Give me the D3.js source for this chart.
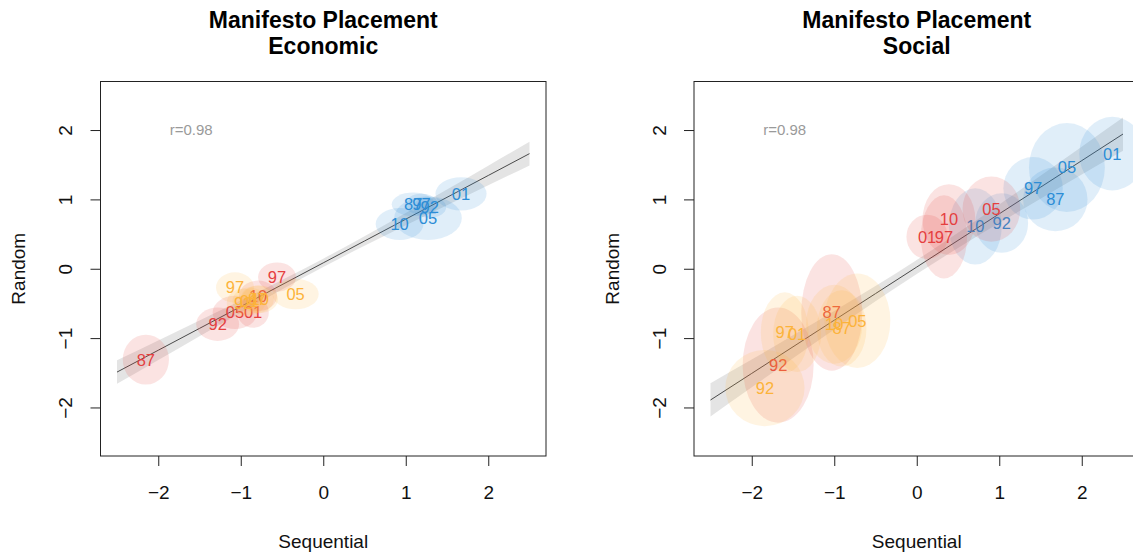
<!DOCTYPE html>
<html><head><meta charset="utf-8">
<script src="https://cdn.jsdelivr.net/npm/d3@7"></script>
<style>
body{margin:0;background:#fff;}
svg text{font-family:"Liberation Sans",Arial,Helvetica,sans-serif;}
</style></head><body>
<svg id="chart" width="1133" height="554"></svg>
<script>
// ---- data ----
const panelTitles = ["Economic", "Social"];
const mainTitle = "Manifesto Placement";
const xLabel = "Sequential";
const yLabel = "Random";
const tickValues = [-2, -1, 0, 1, 2];
const rText = ["r=0.98", "r=0.98"];

// party index per point (0 = red, 1 = orange, 2 = blue) and year label
const partyOf = [0,0,0,0,0,0, 1,1,1,1,1,1, 2,2,2,2,2,2];
const yearOf  = ["87","92","97","01","05","10","87","92","97","01","05","10","87","92","97","01","05","10"];

// Economic panel: estimates (x = Sequential, y = Random) and their spreads
const econX  = [-2.15,-1.28,-0.56,-0.85,-1.07,-0.79,  -0.80,-0.97,-1.07,-0.90,-0.335,-0.77,  1.09,1.29,1.19,1.67,1.27,0.925];
const econY  = [-1.31,-0.80,-0.12,-0.63,-0.63,-0.39,  -0.44,-0.49,-0.27,-0.47,-0.365,-0.44,  0.93,0.885,0.93,1.08,0.73,0.645];
const econSX = [0.28,0.26,0.23,0.19,0.27,0.23,  0.20,0.20,0.23,0.20,0.28,0.22,  0.26,0.20,0.20,0.31,0.41,0.29];
const econSY = [0.36,0.24,0.21,0.22,0.24,0.22,  0.20,0.20,0.22,0.20,0.22,0.20,  0.17,0.15,0.15,0.24,0.315,0.23];

// Social panel
const socX  = [-1.03,-1.68,0.33,0.125,0.905,0.39,  -0.91,-1.84,-1.60,-1.45,-0.72,-1.00,  1.68,1.03,1.41,2.37,1.82,0.71];
const socY  = [-0.63,-1.39,0.46,0.46,0.86,0.71,  -0.86,-1.72,-0.92,-0.94,-0.75,-0.80,  1.00,0.66,1.16,1.66,1.46,0.61];
const socSX = [0.37,0.43,0.28,0.25,0.35,0.32,  0.30,0.48,0.29,0.29,0.40,0.34,  0.39,0.32,0.36,0.40,0.46,0.32];
const socSY = [0.84,0.83,0.60,0.32,0.47,0.51,  0.55,0.55,0.58,0.55,0.68,0.57,  0.46,0.43,0.45,0.53,0.64,0.55];

// regression fit with confidence band
const bandX   = [-2.5,-2,-1.5,-1,-0.5,0,0.5,1,1.5,2,2.5];
const econFit = [-1.49,-1.175,-0.86,-0.545,-0.23,0.085,0.40,0.715,1.03,1.345,1.66];
const econLo  = [-1.66,-1.316,-0.973,-0.633,-0.298,0.025,0.332,0.627,0.917,1.204,1.49];
const econHi  = [-1.32,-1.034,-0.747,-0.457,-0.162,0.145,0.468,0.803,1.143,1.486,1.83];
const socFit  = [-1.8925,-1.509,-1.1255,-0.742,-0.3585,0.025,0.4085,0.792,1.1755,1.559,1.9425];
const socLo   = [-2.13,-1.71,-1.29,-0.875,-0.47,-0.075,0.30,0.66,1.01,1.36,1.70];
const socHi   = [-1.65,-1.31,-0.96,-0.61,-0.25,0.125,0.52,0.925,1.34,1.76,2.18];

const partyColors = ["#E5403F", "#FCB33A", "#2C8DD6"];
const drawOrder = [2, 0, 1]; // blue, then red, then orange

// ---- drawing ----
(function () {
const svg = d3.select("#chart");
const panels = [
  {x0:100.5, X:econX, Y:econY, SX:econSX, SY:econSY, fit:econFit, lo:econLo, hi:econHi},
  {x0:694,   X:socX,  Y:socY,  SX:socSX,  SY:socSY,  fit:socFit,  lo:socLo,  hi:socHi}
];
const PW = 445.5, pTop = 81.5, pBottom = 456;
const FONT = 19;
const fmt = d3.format("d");

panels.forEach((p, i) => {
  const x = d3.scaleLinear().domain([-2.7, 2.7]).range([p.x0, p.x0 + PW]);
  const y = d3.scaleLinear().domain([-2.7, 2.7]).range([pBottom, pTop]);
  const cx = (p.x0 + p.x0 + PW) / 2;
  const g = svg.append("g");

  const clipId = "clip" + i;
  svg.append("clipPath").attr("id", clipId).append("rect")
    .attr("x", p.x0).attr("y", pTop).attr("width", PW).attr("height", pBottom - pTop);
  const plot = g.append("g").attr("clip-path", `url(#${clipId})`);

  // confidence band and fit line
  const area = d3.area().curve(d3.curveMonotoneX)
    .x((d, k) => x(bandX[k])).y0((d, k) => y(p.lo[k])).y1((d, k) => y(p.hi[k]));
  plot.append("path").datum(bandX).attr("d", area)
    .attr("fill", "#7a7a7a").attr("fill-opacity", 0.2);
  const line = d3.line().x((d, k) => x(bandX[k])).y((d, k) => y(p.fit[k]));
  plot.append("path").datum(bandX).attr("d", line)
    .attr("fill", "none").attr("stroke", "#4a4a4a").attr("stroke-width", 1);

  drawOrder.forEach(party => {
    const idx = d3.range(p.X.length).filter(k => partyOf[k] === party);
    const pg = plot.append("g");
    // uncertainty ellipses
    pg.append("g").selectAll("ellipse").data(idx).join("ellipse")
      .attr("cx", k => x(p.X[k])).attr("cy", k => y(p.Y[k]))
      .attr("rx", k => x(p.X[k] + p.SX[k]) - x(p.X[k]))
      .attr("ry", k => y(p.Y[k]) - y(p.Y[k] + p.SY[k]))
      .attr("fill", partyColors[party]).attr("fill-opacity", 0.15);
    // year labels
    pg.append("g").selectAll("text").data(idx).join("text")
      .attr("x", k => x(p.X[k])).attr("y", k => y(p.Y[k])).attr("dy", "0.36em")
      .attr("text-anchor", "middle").attr("font-size", 16.5)
      .attr("fill", partyColors[party]).text(k => yearOf[k]);
  });

  // r text
  g.append("text").attr("x", x(-1.6)).attr("y", y(2.0)).attr("dy", "0.3em")
    .attr("text-anchor", "middle").attr("font-size", 15).attr("fill", "#9a9a9a")
    .text(rText[i]);

  // box
  g.append("rect").attr("x", p.x0).attr("y", pTop).attr("width", PW).attr("height", pBottom - pTop)
    .attr("fill", "none").attr("stroke", "#222").attr("stroke-width", 1);

  // x axis
  const xa = g.append("g").attr("transform", `translate(0,${pBottom})`)
    .call(d3.axisBottom(x).tickValues(tickValues).tickFormat(fmt).tickSize(10).tickPadding(0));
  xa.select(".domain").remove();
  xa.selectAll(".tick line").attr("stroke", "#222");
  xa.selectAll(".tick text").attr("font-size", FONT).attr("fill", "#111")
    .attr("font-family", "Liberation Sans, Arial, sans-serif")
    .attr("y", 43).attr("dy", 0);

  // y axis
  const ya = g.append("g").attr("transform", `translate(${p.x0},0)`)
    .call(d3.axisLeft(y).tickValues(tickValues).tickFormat(fmt).tickSize(10));
  ya.select(".domain").remove();
  ya.selectAll(".tick line").attr("stroke", "#222");
  ya.selectAll(".tick text").attr("font-size", FONT).attr("fill", "#111")
    .attr("font-family", "Liberation Sans, Arial, sans-serif")
    .attr("text-anchor", "middle").attr("x", 0).attr("y", 0).attr("dy", 0)
    .attr("transform", "translate(-28.5,0) rotate(-90)");

  // axis titles
  g.append("text").attr("x", cx).attr("y", 548).attr("text-anchor", "middle")
    .attr("font-size", FONT).attr("fill", "#111").text(xLabel);
  g.append("text").attr("transform", `translate(${p.x0 - 75.5},${(pTop + pBottom) / 2}) rotate(-90)`)
    .attr("text-anchor", "middle").attr("font-size", FONT).attr("fill", "#111").text(yLabel);

  // titles
  g.append("text").attr("x", cx).attr("y", 28).attr("text-anchor", "middle")
    .attr("font-size", 23).attr("font-weight", "bold").attr("fill", "#000").text(mainTitle);
  g.append("text").attr("x", cx).attr("y", 53.5).attr("text-anchor", "middle")
    .attr("font-size", 23).attr("font-weight", "bold").attr("fill", "#000").text(panelTitles[i]);
});
})();
</script>
</body></html>
